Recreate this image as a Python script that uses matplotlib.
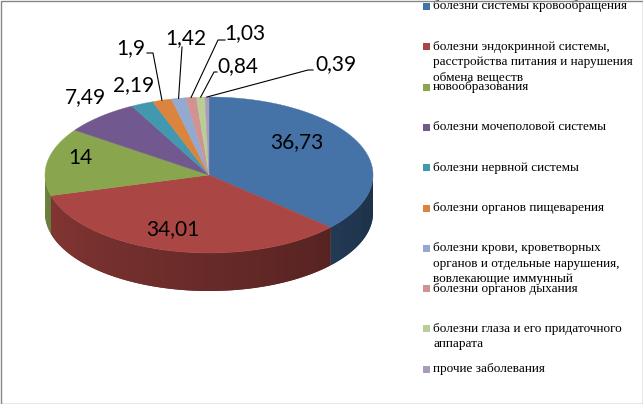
import numpy as np
import matplotlib.pyplot as plt
from matplotlib.patches import Polygon, Rectangle
from matplotlib.colors import to_rgb

# data
categories = [
    'болезни системы кровообращения',
    'болезни эндокринной системы,\nрасстройства питания и нарушения\nобмена веществ',
    'новообразования',
    'болезни мочеполовой системы',
    'болезни нервной системы',
    'болезни органов пищеварения',
    'болезни крови, кроветворных\nорганов и отдельные нарушения,\nвовлекающие иммунный',
    'болезни органов дыхания',
    'болезни глаза и его придаточного\nаппарата',
    'прочие заболевания',
]
values = [36.73, 34.01, 14, 7.49, 2.19, 1.9, 1.42, 1.03, 0.84, 0.39]
value_labels = ['36,73', '34,01', '14', '7,49', '2,19', '1,9', '1,42', '1,03', '0,84', '0,39']
colors = ['#4572A7', '#AA4643', '#89A54E', '#71588F', '#4198AF',
          '#DB843D', '#93A9CF', '#D19392', '#B9CD96', '#A99BBD']

# layout (pixel coordinates)
W, H = 643, 404
cx, cy, rx, ry, depth = 209, 175, 164, 78, 38
label_pos = [(297, 142), (173, 229), (80, 158), (85, 97), (134, 85),
             (131, 48), (186, 38), (245, 33), (238, 66), (336, 64)]
# leader lines: (start, knee) for the small slices
leaders = {5: ((147, 53), (153, 53)),
           6: ((182, 47), (182, 47)),
           7: ((225, 40), (218, 40)),
           8: ((217, 72), (214, 72)),
           9: ((313, 70), (308, 70))}

fig = plt.figure(figsize=(W / 100, H / 100), dpi=100)
ax = fig.add_axes([0, 0, 1, 1])
ax.set_xlim(0, W)
ax.set_ylim(H, 0)
ax.axis('off')


def rim(theta, dy=0.0):
    t = np.radians(theta)
    return cx + rx * np.cos(t), cy - ry * np.sin(t) + dy


total = sum(values)
bounds = 90 - 360 * np.concatenate([[0], np.cumsum(values)]) / total

# side of the cylinder (front half only), shaded left-to-right
for i, c in enumerate(colors):
    a0, a1 = bounds[i], bounds[i + 1]
    for shift in (0, 360):
        lo, hi = max(a1 + shift, -180), min(a0 + shift, 0)
        if lo >= hi:
            continue
        angs = np.linspace(lo, hi, 200)
        xs, ys = rim(angs)
        pts = list(zip(xs, ys)) + list(zip(xs[::-1], ys[::-1] + depth))
        base = np.array(to_rgb(c))
        side = Polygon(pts, closed=True, facecolor=base * 0.6, edgecolor='none')
        ax.add_patch(side)
        x_lo, x_hi = xs.min(), xs.max()
        y_lo, y_hi = ys.min(), ys.max() + depth
        gx = np.linspace(x_lo, x_hi, 300)
        u = np.clip((gx - cx) / rx, -1, 1)
        f = 0.42 + 0.38 * np.arccos(u) / np.pi
        img = (base[None, :] * f[:, None])[None, :, :]
        im = ax.imshow(img, extent=(x_lo, x_hi, y_hi, y_lo), aspect='auto',
                       interpolation='bilinear', zorder=1)
        im.set_clip_path(side)

# top face
for i, c in enumerate(colors):
    a0, a1 = bounds[i], bounds[i + 1]
    angs = np.linspace(a0, a1, max(int(abs(a0 - a1) * 2), 2))
    xs, ys = rim(angs)
    pts = [(cx, cy)] + list(zip(xs, ys))
    ax.add_patch(Polygon(pts, closed=True, facecolor=c, edgecolor=c,
                         lw=0.3, zorder=2))

ax.set_xlim(0, W)
ax.set_ylim(H, 0)

# value labels
for i, (txt, (lx, ly)) in enumerate(zip(value_labels, label_pos)):
    ax.text(lx, ly, txt, ha='center', va='center', fontsize=15,
            family='Lato', color='black', zorder=4)
    if i in leaders:
        (sx, sy), (kx, ky) = leaders[i]
        mid = (bounds[i] + bounds[i + 1]) / 2
        ex, ey = rim(mid)
        ax.plot([sx, kx, ex], [sy, ky, ey], color='black', lw=0.8, zorder=3)

# legend
leg_y0, leg_step, line_h = 6.5, 40.3, 15.5
for i, (lab, c) in enumerate(zip(categories, colors)):
    yc = leg_y0 + i * leg_step
    ax.add_patch(Rectangle((423, yc - 3.5), 7, 7, facecolor=c, edgecolor='none'))
    for k, line in enumerate(lab.split('\n')):
        ax.text(433, yc + k * line_h, line, ha='left', va='center',
                fontsize=9.5, family='Liberation Serif', color='black')

# chart border
ax.add_patch(Rectangle((0.5, 0.5), W - 1, H - 1, fill=False,
                       edgecolor='#868686', lw=1, zorder=5))

fig.savefig('out.png', dpi=100)
